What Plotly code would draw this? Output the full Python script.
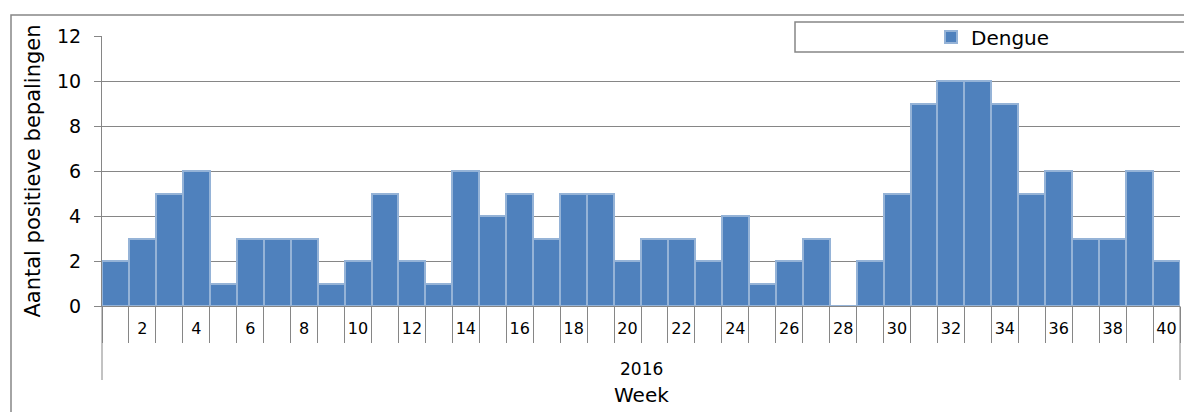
import plotly.graph_objects as go

weeks = [str(i) for i in range(1, 41)]
dengue = [2, 3, 5, 6, 1, 3, 3, 3, 1, 2, 5, 2, 1, 6, 4, 5, 3, 5, 5, 2,
          3, 3, 2, 4, 1, 2, 3, 0, 2, 5, 9, 10, 10, 9, 5, 6, 3, 3, 6, 2]
tick_text = [w if int(w) % 2 == 0 else "" for w in weeks]
year_label = "2016"
x_title = "Week"
y_title = "Aantal positieve bepalingen"
y_ticks = [0, 2, 4, 6, 8, 10, 12]

FONT = "DejaVu Sans"
GRID = "#868686"

fig = go.Figure()
fig.add_trace(go.Bar(
    x=weeks, y=dengue, name="Dengue",
    marker=dict(color="#4F81BD", line=dict(color="#95B3D7", width=2)),
    width=1,
))

L, R, T, B = 102, 4, 36, 106
W, H = 1184, 412
pw, ph = W - L - R, H - T - B

def px(x):
    return (x - L) / pw

def py(y):
    return 1 - (y - T) / ph

fig.update_layout(
    width=W, height=H,
    margin=dict(l=L, r=R, t=T, b=B),
    plot_bgcolor="white", paper_bgcolor="white",
    bargap=0,
    font=dict(family=FONT, color="black"),
    showlegend=True,
    legend=dict(x=px(993), y=py(37), xanchor="center", yanchor="middle",
                font=dict(size=20, family=FONT), bgcolor="rgba(0,0,0,0)",
                itemwidth=30),
    xaxis=dict(
        type="category", tickmode="array", tickvals=weeks, ticktext=tick_text,
        tickson="boundaries", ticks="outside", ticklen=36, tickcolor=GRID,
        tickwidth=1, showline=True, linecolor=GRID, linewidth=1,
        showgrid=False, tickfont=dict(size=16, family=FONT),
        ticklabelstandoff=8, tickangle=0,
    ),
    yaxis=dict(
        range=[0, 12], tickvals=y_ticks, ticks="outside", ticklen=7,
        tickcolor=GRID, showline=True, linecolor=GRID, gridcolor=GRID,
        gridwidth=1, zeroline=False, tickfont=dict(size=19, family=FONT),
        ticklabelstandoff=9,
        title=dict(text=y_title, font=dict(size=21, family=FONT), standoff=10),
    ),
    shapes=[
        dict(type="rect", xref="paper", yref="paper",
             x0=px(11), x1=px(1195), y0=py(430), y1=py(15),
             line=dict(color=GRID, width=1.5), fillcolor="rgba(0,0,0,0)", layer="below"),
        dict(type="rect", xref="paper", yref="paper",
             x0=px(795), x1=px(1195), y0=py(52), y1=py(22),
             line=dict(color=GRID, width=1.5), fillcolor="white"),
        dict(type="line", xref="paper", yref="paper",
             x0=0, x1=0, y0=py(306), y1=py(380), line=dict(color=GRID, width=1)),
        dict(type="line", xref="paper", yref="paper",
             x0=1, x1=1, y0=py(306), y1=py(380), line=dict(color=GRID, width=1)),
    ],
    annotations=[
        dict(text=year_label, xref="paper", yref="paper", x=0.5, y=py(369),
             showarrow=False, font=dict(size=17, family=FONT), yanchor="middle"),
        dict(text=x_title, xref="paper", yref="paper", x=0.5, y=py(395),
             showarrow=False, font=dict(size=20, family=FONT), yanchor="middle"),
    ],
)

fig.write_html("out.html", config={"displayModeBar": False},
               post_script="document.body.style.margin='0';document.body.style.overflow='hidden';")
